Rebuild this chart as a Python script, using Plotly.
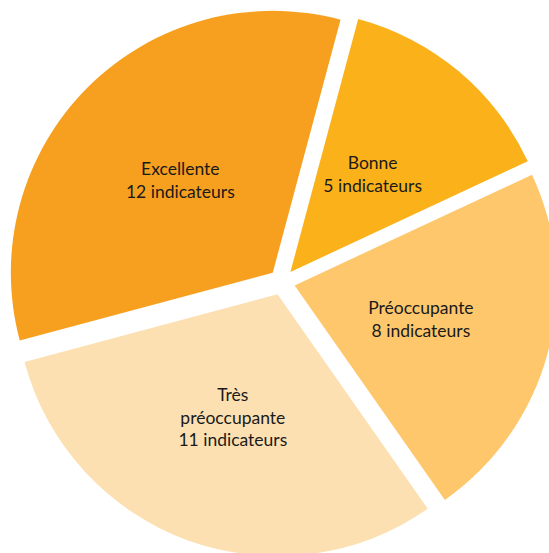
import plotly.graph_objects as go

categories = ["Bonne", "Préoccupante", "Très<br>préoccupante", "Excellente"]
values = [5, 8, 11, 12]
colors = ["#FBB11A", "#FEC76C", "#FDE0B1", "#F7A01F"]

W, H = 570, 562
cx, cy = 282, 282
half = 275              # half-size of the main pie box (px)
pull_main = 0.05
r_main = half / (1 + pull_main)
pull_px = pull_main * r_main

font = dict(family="Lato", size=17.5, color="#1a1a1a")
tmpl = "%{label}<br>%{value} indicateurs"


def dom(h):
    return dict(x=[(cx - h) / W, (cx + h) / W],
                y=[(H - cy - h) / H, (H - cy + h) / H])


def label_layer(r_lab, hole, shown):
    pull_lab = pull_px / r_lab
    return go.Pie(
        labels=categories,
        values=values,
        sort=False,
        direction="clockwise",
        rotation=15,
        pull=pull_lab,
        hole=hole,
        marker=dict(colors=["rgba(0,0,0,0)"] * len(values), line=dict(width=0)),
        texttemplate=tmpl,
        textposition=["inside" if s else "none" for s in shown],
        insidetextorientation="horizontal",
        textfont=font,
        hoverinfo="skip",
        showlegend=False,
        domain=dom(r_lab * (1 + pull_lab)),
    )


fig = go.Figure()
fig.add_trace(go.Pie(
    labels=categories,
    values=values,
    sort=False,
    direction="clockwise",
    rotation=15,
    pull=pull_main,
    marker=dict(colors=colors, line=dict(width=0)),
    textinfo="none",
    hoverinfo="label+value",
    showlegend=False,
    domain=dom(half),
))
# transparent label layers (same data) so that labels sit about halfway out
fig.add_trace(label_layer(182, 0.0, [True, False, False, False]))
fig.add_trace(label_layer(198, 0.32, [False, True, True, True]))

fig.update_layout(
    width=W, height=H,
    margin=dict(l=0, r=0, t=0, b=0),
    paper_bgcolor="white",
    plot_bgcolor="white",
)
fig.write_html(
    "out.html",
    config={"displayModeBar": False},
    post_script="document.body.style.margin='0';document.body.style.overflow='hidden';",
)
